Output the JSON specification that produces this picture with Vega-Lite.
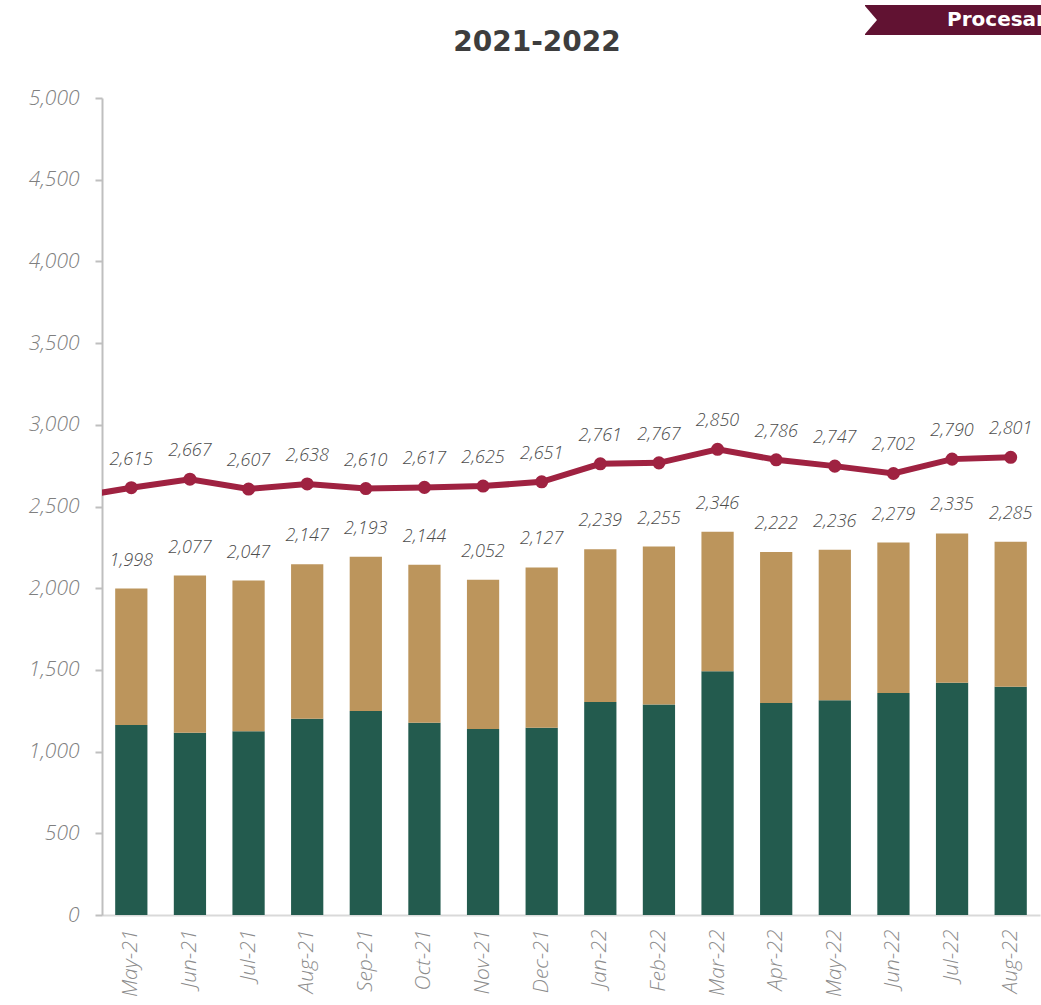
{
  "$schema": "https://vega.github.io/schema/vega-lite/v6.json",
  "width": 938,
  "height": 817,
  "autosize": {"type": "none"},
  "padding": {"left": 102, "top": 98, "right": 1, "bottom": 90},
  "background": "white",
  "config": {
    "view": {"stroke": null},
    "axis": {"grid": false},
    "axisY": {
      "domainColor": "#bfbfbf", "domainWidth": 2,
      "tickColor": "#bfbfbf", "tickWidth": 2, "tickSize": 7,
      "labelFont": "Open Sans", "labelFontStyle": "italic", "labelFontWeight": 300,
      "labelFontSize": 21, "labelColor": "#7f7f7f", "labelPadding": 16
    },
    "axisX": {
      "domainColor": "#d9d9d9", "domainWidth": 2, "ticks": false,
      "labelFont": "Open Sans", "labelFontStyle": "italic", "labelFontWeight": 300,
      "labelFontSize": 21, "labelColor": "#8c8c8c", "labelPadding": 14, "labelAngle": -90
    }
  },
  "title": {
    "text": "2021-2022",
    "font": "DejaVu Sans", "fontSize": 28, "fontWeight": "bold", "color": "#3d3d3d",
    "anchor": "middle", "frame": "group", "dx": -34, "offset": -53
  },
  "datasets": {
    "bars": [
      {"month": "May-21", "green": 1163, "total": 1998},
      {"month": "Jun-21", "green": 1116, "total": 2077},
      {"month": "Jul-21", "green": 1124, "total": 2047},
      {"month": "Aug-21", "green": 1201, "total": 2147},
      {"month": "Sep-21", "green": 1248, "total": 2193},
      {"month": "Oct-21", "green": 1177, "total": 2144},
      {"month": "Nov-21", "green": 1138, "total": 2052},
      {"month": "Dec-21", "green": 1146, "total": 2127},
      {"month": "Jan-22", "green": 1304, "total": 2239},
      {"month": "Feb-22", "green": 1289, "total": 2255},
      {"month": "Mar-22", "green": 1491, "total": 2346},
      {"month": "Apr-22", "green": 1297, "total": 2222},
      {"month": "May-22", "green": 1314, "total": 2236},
      {"month": "Jun-22", "green": 1359, "total": 2279},
      {"month": "Jul-22", "green": 1422, "total": 2335},
      {"month": "Aug-22", "green": 1397, "total": 2285}
    ],
    "line": [
      {"idx": -1, "month": "Apr-21", "value": 2555},
      {"idx": 0, "month": "May-21", "value": 2615},
      {"idx": 1, "month": "Jun-21", "value": 2667},
      {"idx": 2, "month": "Jul-21", "value": 2607},
      {"idx": 3, "month": "Aug-21", "value": 2638},
      {"idx": 4, "month": "Sep-21", "value": 2610},
      {"idx": 5, "month": "Oct-21", "value": 2617},
      {"idx": 6, "month": "Nov-21", "value": 2625},
      {"idx": 7, "month": "Dec-21", "value": 2651},
      {"idx": 8, "month": "Jan-22", "value": 2761},
      {"idx": 9, "month": "Feb-22", "value": 2767},
      {"idx": 10, "month": "Mar-22", "value": 2850},
      {"idx": 11, "month": "Apr-22", "value": 2786},
      {"idx": 12, "month": "May-22", "value": 2747},
      {"idx": 13, "month": "Jun-22", "value": 2702},
      {"idx": 14, "month": "Jul-22", "value": 2790},
      {"idx": 15, "month": "Aug-22", "value": 2801}
    ],
    "banner": [
      {"label": "Procesar", "x0": 12.515, "x1": 16.5, "y0": 5386, "y1": 5569, "xt": 13.914, "ym": 5477}
    ]
  },
  "layer": [
    {
      "data": {"name": "bars"},
      "mark": {"type": "bar", "color": "#235B4E"},
      "encoding": {
        "x": {
          "field": "month", "type": "nominal", "sort": null, "title": null,
          "scale": {"paddingInner": 0.45, "paddingOuter": 0.225}
        },
        "y": {"field": "green", "type": "quantitative", "stack": null,
              "scale": {"domain": [0, 5000], "nice": false},
              "axis": {"title": null, "format": ",.0f", "values": [0, 500, 1000, 1500, 2000, 2500, 3000, 3500, 4000, 4500, 5000]}}
      }
    },
    {
      "data": {"name": "bars"},
      "mark": {"type": "bar", "color": "#BC955C"},
      "encoding": {
        "x": {"field": "month", "type": "nominal", "sort": null, "axis": null,
              "scale": {"paddingInner": 0.45, "paddingOuter": 0.225}},
        "y": {"field": "green", "type": "quantitative", "stack": null},
        "y2": {"field": "total"}
      }
    },
    {
      "data": {"name": "bars"},
      "mark": {"type": "text", "baseline": "alphabetic", "dy": -23, "font": "Open Sans", "fontStyle": "italic", "fontWeight": 300, "fontSize": 18, "color": "#4d4d4d"},
      "encoding": {
        "x": {"field": "month", "type": "nominal", "sort": null, "axis": null,
              "scale": {"paddingInner": 0.45, "paddingOuter": 0.225}},
        "y": {"field": "total", "type": "quantitative"},
        "text": {"field": "total", "type": "quantitative", "format": ","}
      }
    },
    {
      "data": {"name": "line"},
      "mark": {"type": "line", "color": "#9F2241", "strokeWidth": 6, "clip": true},
      "encoding": {
        "x": {"field": "idx", "type": "quantitative", "axis": null,
              "scale": {"domain": [-0.5, 15.5], "nice": false, "zero": false}},
        "y": {"field": "value", "type": "quantitative"}
      }
    },
    {
      "data": {"name": "line"},
      "transform": [{"filter": "datum.idx >= 0"}],
      "mark": {"type": "point", "filled": true, "opacity": 1, "color": "#9F2241", "size": 170},
      "encoding": {
        "x": {"field": "idx", "type": "quantitative", "axis": null,
              "scale": {"domain": [-0.5, 15.5], "nice": false, "zero": false}},
        "y": {"field": "value", "type": "quantitative"}
      }
    },
    {
      "data": {"name": "line"},
      "transform": [{"filter": "datum.idx >= 0"}],
      "mark": {"type": "text", "baseline": "alphabetic", "dy": -23, "font": "Open Sans", "fontStyle": "italic", "fontWeight": 300, "fontSize": 18, "color": "#4d4d4d"},
      "encoding": {
        "x": {"field": "idx", "type": "quantitative", "axis": null,
              "scale": {"domain": [-0.5, 15.5], "nice": false, "zero": false}},
        "y": {"field": "value", "type": "quantitative"},
        "text": {"field": "value", "type": "quantitative", "format": ","}
      }
    },
    {
      "data": {"name": "banner"},
      "mark": {"type": "rect", "color": "#611232"},
      "encoding": {
        "x": {"field": "x0", "type": "quantitative", "axis": null,
              "scale": {"domain": [-0.5, 15.5], "nice": false, "zero": false}},
        "x2": {"field": "x1"},
        "y": {"field": "y0", "type": "quantitative"},
        "y2": {"field": "y1"}
      }
    },
    {
      "data": {"name": "banner"},
      "mark": {"type": "point", "filled": true, "opacity": 1, "color": "white", "size": 900, "shape": "M-0.1,-1.05L0.8,0L-0.1,1.05Z"},
      "encoding": {
        "x": {"field": "x0", "type": "quantitative", "axis": null,
              "scale": {"domain": [-0.5, 15.5], "nice": false, "zero": false}},
        "y": {"field": "ym", "type": "quantitative"}
      }
    },
    {
      "data": {"name": "banner"},
      "mark": {"type": "text", "align": "left", "baseline": "middle", "font": "DejaVu Sans", "fontWeight": "bold", "fontSize": 20, "color": "white"},
      "encoding": {
        "x": {"field": "xt", "type": "quantitative", "axis": null,
              "scale": {"domain": [-0.5, 15.5], "nice": false, "zero": false}},
        "y": {"field": "ym", "type": "quantitative"},
        "text": {"field": "label"}
      }
    }
  ],
  "resolve": {"scale": {"x": "independent"}}
}
